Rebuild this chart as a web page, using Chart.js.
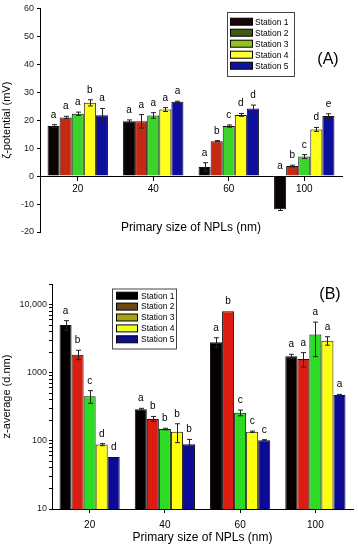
<!DOCTYPE html>
<html>
<head>
<meta charset="utf-8">
<script src="https://cdn.jsdelivr.net/npm/chart.js@4.4.1/dist/chart.umd.min.js"></script>
<style>
  html, body { margin: 0; padding: 0; background: #fff; }
  #wrap { position: relative; width: 358px; height: 550px; overflow: hidden; }
  canvas { position: absolute; left: 0; }
  #chartA { top: 0; }
  #chartB { top: 250px; }
</style>
</head>
<body>
<div id="wrap">
  <canvas id="chartA" width="358" height="242"></canvas>
  <canvas id="chartB" width="358" height="300"></canvas>
</div>
<script>
// shared categories
const sizes = ['20', '40', '60', '100'];
const stations = ['Station 1', 'Station 2', 'Station 3', 'Station 4', 'Station 5'];

// (A) zeta potential, mV
const zetaS1 = [17.9, 19.6, 3.3, -11.9];
const zetaS2 = [21.0, 19.6, 12.5, 3.6];
const zetaS3 = [22.3, 21.7, 17.9, 7.0];
const zetaS4 = [26.2, 23.8, 21.9, 16.7];
const zetaS5 = [21.8, 26.6, 24.2, 21.5];
const zetaErrS1 = [0.5, 0.5, 1.5, 0.4];
const zetaErrS2 = [0.4, 2.4, 0.2, 0.3];
const zetaErrS3 = [0.6, 1.0, 0.4, 0.7];
const zetaErrS4 = [1.1, 0.7, 0.5, 0.7];
const zetaErrS5 = [2.4, 0.2, 1.2, 0.8];
const zetaLetS1 = ['a', 'a', 'a', 'a'];
const zetaLetS2 = ['a', 'a', 'b', 'b'];
const zetaLetS3 = ['a', 'a', 'c', 'c'];
const zetaLetS4 = ['b', 'a', 'd', 'd'];
const zetaLetS5 = ['a', 'a', 'd', 'e'];

// (B) z-average, d.nm
const zavgS1 = [5000, 290, 2800, 1740];
const zavgS2 = [1840, 210, 7950, 1590];
const zavgS3 = [450, 149, 258, 3620];
const zavgS4 = [88, 136, 136, 2950];
const zavgS5 = [58, 89, 102, 470];
const zavgErrS1 = [800, 10, 450, 120];
const zavgErrS2 = [290, 18, 0, 380];
const zavgErrS3 = [95, 4, 25, 1900];
const zavgErrS4 = [3, 42, 3, 420];
const zavgErrS5 = [0, 16, 2, 10];
const zavgLetS1 = ['a', 'a', 'a', 'a'];
const zavgLetS2 = ['b', 'b', 'b', 'a'];
const zavgLetS3 = ['c', 'b', 'c', 'a'];
const zavgLetS4 = ['d', 'b', 'c', 'a'];
const zavgLetS5 = ['d', 'b', 'c', 'a'];

// log axis ticks (B)
const zavgTicks = [10, 20, 30, 40, 50, 60, 70, 80, 90,
  100, 200, 300, 400, 500, 600, 700, 800, 900,
  1000, 2000, 3000, 4000, 5000, 6000, 7000, 8000, 9000,
  10000, 20000];
const zavgTickText = { 10: '10', 100: '100', 1000: '1000', 10000: '10,000' };

// colours
const barColorsA = ['#0a0303', '#c42a12', '#3ad42a', '#ffff1a', '#0d0d9e'];
const legendColorsA = ['#1a0508', '#3f5a12', '#8fc21e', '#ffff33', '#1212a0'];
const barColorsB = ['#050000', '#dc1c10', '#2adc22', '#ffff10', '#0a0a96'];
const legendColorsB = ['#000000', '#6b4812', '#a8a214', '#eeff22', '#0e0e92'];

const FONT = 'Liberation Sans, Arial, sans-serif';
Chart.defaults.font.family = FONT;
Chart.defaults.color = '#000';

function buildDatasets(means, errs, letters, colors) {
  return means.map((m, i) => ({
    label: stations[i],
    data: m,
    errors: errs[i],
    letters: letters[i],
    backgroundColor: colors[i],
    borderColor: '#111',
    borderWidth: 1
  }));
}

// error bars + significance letters
const annotate = {
  id: 'annotate',
  afterDatasetsDraw(chart) {
    const ctx = chart.ctx;
    const y = chart.scales.y;
    ctx.save();
    ctx.strokeStyle = '#222';
    ctx.lineWidth = 1;
    ctx.fillStyle = '#000';
    ctx.font = '10px ' + FONT;
    ctx.textAlign = 'center';
    ctx.textBaseline = 'alphabetic';
    chart.data.datasets.forEach((ds, i) => {
      chart.getDatasetMeta(i).data.forEach((bar, j) => {
        const v = ds.data[j];
        const e = ds.errors[j];
        const x = Math.round(bar.x) + 0.5;
        if (e > 0) {
          const hi = y.getPixelForValue(v + e);
          const lo = y.getPixelForValue(v - e);
          ctx.beginPath();
          ctx.moveTo(x, hi); ctx.lineTo(x, lo);
          ctx.moveTo(x - 2.5, hi); ctx.lineTo(x + 2.5, hi);
          ctx.moveTo(x - 2.5, lo); ctx.lineTo(x + 2.5, lo);
          ctx.stroke();
        }
        // letters sit above the bar, or above the zero line for negative bars
        const top = v > 0 ? v + e : 0;
        ctx.fillText(ds.letters[j], bar.x, y.getPixelForValue(top) - 7);
      });
    });
    ctx.restore();
  }
};

// floating legend box and panel tag
const boxLegend = {
  id: 'boxLegend',
  afterDraw(chart, args, o) {
    const ctx = chart.ctx;
    ctx.save();
    ctx.strokeStyle = '#444';
    ctx.lineWidth = 1;
    ctx.strokeRect(o.x + 0.5, o.y + 0.5, o.w, o.h);
    ctx.font = '8.5px ' + FONT;
    ctx.textBaseline = 'middle';
    ctx.textAlign = 'left';
    stations.forEach((s, i) => {
      const cy = o.row0 + i * o.rowH;
      ctx.fillStyle = o.colors[i];
      ctx.fillRect(o.sx, cy - 3.5, o.sw, 7);
      ctx.strokeStyle = '#000';
      ctx.strokeRect(o.sx + 0.5, cy - 3.5, o.sw, 7);
      ctx.fillStyle = '#000';
      ctx.fillText(s, o.tx, cy + 0.5);
    });
    ctx.font = '16px ' + FONT;
    ctx.textAlign = 'center';
    ctx.fillText(o.tag, o.tagX, o.tagY);
    ctx.restore();
  }
};

const tickGrid = { drawOnChartArea: false, offset: false, tickLength: 4, color: '#000' };

new Chart(document.getElementById('chartA'), {
  type: 'bar',
  data: {
    labels: sizes,
    datasets: buildDatasets(
      [zetaS1, zetaS2, zetaS3, zetaS4, zetaS5],
      [zetaErrS1, zetaErrS2, zetaErrS3, zetaErrS4, zetaErrS5],
      [zetaLetS1, zetaLetS2, zetaLetS3, zetaLetS4, zetaLetS5],
      barColorsA)
  },
  options: {
    responsive: false,
    animation: false,
    layout: { padding: { top: 8, bottom: 10, left: 0, right: 16 } },
    datasets: { bar: { categoryPercentage: 0.8, barPercentage: 1 } },
    plugins: {
      legend: { display: false },
      tooltip: { enabled: false },
      boxLegend: { x: 227, y: 12, w: 67, h: 64, sx: 230, sw: 22, tx: 255, row0: 21.7, rowH: 11,
        colors: legendColorsA, tag: '(A)', tagX: 328, tagY: 60 }
    },
    scales: {
      x: {
        position: { y: 0 },
        grid: tickGrid,
        border: { color: '#000' },
        ticks: { font: { size: 10 }, color: '#000', padding: 3 },
        title: { display: true, text: 'Primary size of NPLs (nm)', font: { size: 12 }, color: '#000',
          padding: { top: 22, bottom: 0 } }
      },
      y: {
        min: -20, max: 60,
        ticks: { stepSize: 10, font: { size: 9 }, color: '#222', padding: 3 },
        grid: { drawOnChartArea: false, tickLength: 3, color: '#000' },
        border: { color: '#000' },
        title: { display: true, text: 'ζ-potential (mV)', font: { size: 11 }, color: '#000',
          padding: { top: 0, bottom: 0 } },
        afterFit(s) { s.width = 40; }
      }
    }
  },
  plugins: [annotate, boxLegend]
});

new Chart(document.getElementById('chartB'), {
  type: 'bar',
  data: {
    labels: sizes,
    datasets: buildDatasets(
      [zavgS1, zavgS2, zavgS3, zavgS4, zavgS5],
      [zavgErrS1, zavgErrS2, zavgErrS3, zavgErrS4, zavgErrS5],
      [zavgLetS1, zavgLetS2, zavgLetS3, zavgLetS4, zavgLetS5],
      barColorsB)
  },
  options: {
    responsive: false,
    animation: false,
    layout: { padding: { top: 34, bottom: 5, left: 0, right: 5 } },
    datasets: { bar: { categoryPercentage: 0.8, barPercentage: 1 } },
    plugins: {
      legend: { display: false },
      tooltip: { enabled: false },
      boxLegend: { x: 112, y: 38.5, w: 64, h: 60, sx: 116, sw: 21, tx: 141, row0: 45.7, rowH: 10.9,
        colors: legendColorsB, tag: '(B)', tagX: 330, tagY: 45 }
    },
    scales: {
      x: {
        grid: tickGrid,
        border: { color: '#000' },
        ticks: { font: { size: 10 }, color: '#000', padding: 6 },
        title: { display: true, text: 'Primary size of NPLs (nm)', font: { size: 12 }, color: '#000',
          padding: { top: 0, bottom: 0 } },
        afterFit(s) { s.height = 36; }
      },
      y: {
        type: 'logarithmic',
        min: 10, max: 20000,
        afterBuildTicks(s) { s.ticks = zavgTicks.map(v => ({ value: v })); },
        ticks: { autoSkip: false, font: { size: 9 }, color: '#222', padding: 2,
          callback: (v) => zavgTickText[v] || '' },
        grid: { drawOnChartArea: false, tickLength: 3, color: '#000' },
        border: { color: '#000' },
        title: { display: true, text: 'z-average (d.nm)', font: { size: 11 }, color: '#000',
          padding: { top: 0, bottom: 0 } },
        afterFit(s) { s.width = 52; }
      }
    }
  },
  plugins: [annotate, boxLegend]
});
</script>
</body>
</html>
